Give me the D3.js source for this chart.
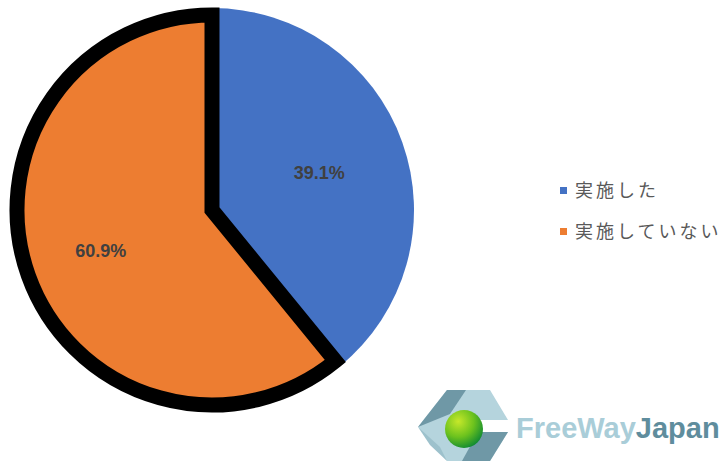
<!DOCTYPE html>
<html>
<head>
<meta charset="utf-8">
<script src="https://cdn.jsdelivr.net/npm/d3@7"></script>
<style>
  body { margin: 0; background: #fff; }
</style>
</head>
<body>
<script>
const categories = ['実施した', '実施していない'];
const values = [39.1, 60.9];
const colors = ['#4472C4', '#ED7D31'];

const width = 726, height = 461;
const cx = 212, cy = 210;

const svg = d3.select('body')
    .append('svg')
    .attr('width', width)
    .attr('height', height);

const data = categories.map((c, i) => ({ name: c, value: values[i], color: colors[i] }));

const pie = d3.pie()
    .sort(null)
    .value(d => d.value);

const arcs = pie(data);

const blueArc = d3.arc().innerRadius(0).outerRadius(202);
const orangeArc = d3.arc().innerRadius(0).outerRadius(195);
const labelArc = d3.arc().innerRadius(116).outerRadius(116);

const g = svg.append('g')
    .attr('transform', 'translate(' + cx + ',' + cy + ')');

// blue slice first, orange slice with heavy black outline on top
g.selectAll('.slice')
    .data(arcs)
    .enter()
    .append('path')
    .classed('slice', true)
    .attr('d', (d, i) => i === 0 ? blueArc(d) : orangeArc(d))
    .attr('fill', d => d.data.color)
    .attr('stroke', (d, i) => i === 1 ? '#000' : 'none')
    .attr('stroke-width', 15)
    .attr('stroke-linejoin', 'miter');

g.selectAll('.label')
    .data(arcs)
    .enter()
    .append('text')
    .classed('label', true)
    .attr('transform', d => 'translate(' + labelArc.centroid(d) + ')')
    .attr('text-anchor', 'middle')
    .attr('dx', -2)
    .attr('dy', '0.45em')
    .style('font-family', '"Liberation Sans", Arial, sans-serif')
    .style('font-weight', 'bold')
    .style('font-size', '18px')
    .attr('fill', '#404040')
    .text(d => d.data.value.toFixed(1) + '%');

// legend
const legend = svg.selectAll('.legend')
    .data(data)
    .enter()
    .append('g')
    .classed('legend', true)
    .attr('transform', (d, i) => 'translate(560,' + (190 + i * 41) + ')');

legend.append('rect')
    .attr('x', 0)
    .attr('y', -3)
    .attr('width', 7)
    .attr('height', 7)
    .attr('fill', d => d.color);

legend.append('text')
    .attr('x', 15)
    .attr('dy', '0.38em')
    .style('font-family', '"Noto Sans CJK JP", sans-serif')
    .style('font-size', '18px')
    .style('letter-spacing', '3px')
    .attr('fill', '#595959')
    .text(d => d.name);

// logo
const logo = svg.append('g').classed('logo', true);

const defs = svg.append('defs');
const grad = defs.append('radialGradient')
    .attr('id', 'ball')
    .attr('cx', '35%').attr('cy', '30%').attr('r', '75%');
grad.append('stop').attr('offset', '0%').attr('stop-color', '#c6e82a');
grad.append('stop').attr('offset', '55%').attr('stop-color', '#6cc21e');
grad.append('stop').attr('offset', '100%').attr('stop-color', '#0f8a32');

logo.append('path')
    .attr('d', 'M418,427 L447,390 L490,390 L508,420 L478,420 L478,432 L508,432 L490,461 L447,461 Z')
    .attr('fill', '#b5d4dd');
logo.append('path')
    .attr('d', 'M418,427 L447,390 L466,390 L450,414 Z')
    .attr('fill', '#6f98a6');
logo.append('path')
    .attr('d', 'M478,432 L508,432 L490,461 L462,461 Z')
    .attr('fill', '#6f98a6');
logo.append('path')
    .attr('d', 'M418,427 L440,447 L447,461 L430,445 Z')
    .attr('fill', '#9dc1cc');
logo.append('rect')
    .attr('x', 470).attr('y', 418).attr('width', 9).attr('height', 16)
    .attr('fill', '#1e9a36');
logo.append('circle')
    .attr('cx', 464).attr('cy', 429).attr('r', 19)
    .attr('fill', 'url(#ball)');

const logoText = logo.append('text')
    .attr('x', 516)
    .attr('y', 438)
    .style('font-family', '"Liberation Sans", Arial, sans-serif')
    .style('font-weight', 'bold')
    .style('font-size', '29px');
logoText.append('tspan').attr('fill', '#a9cdd8').text('FreeWay');
logoText.append('tspan').attr('fill', '#5f8d9d').text('Japan');
</script>
</body>
</html>
